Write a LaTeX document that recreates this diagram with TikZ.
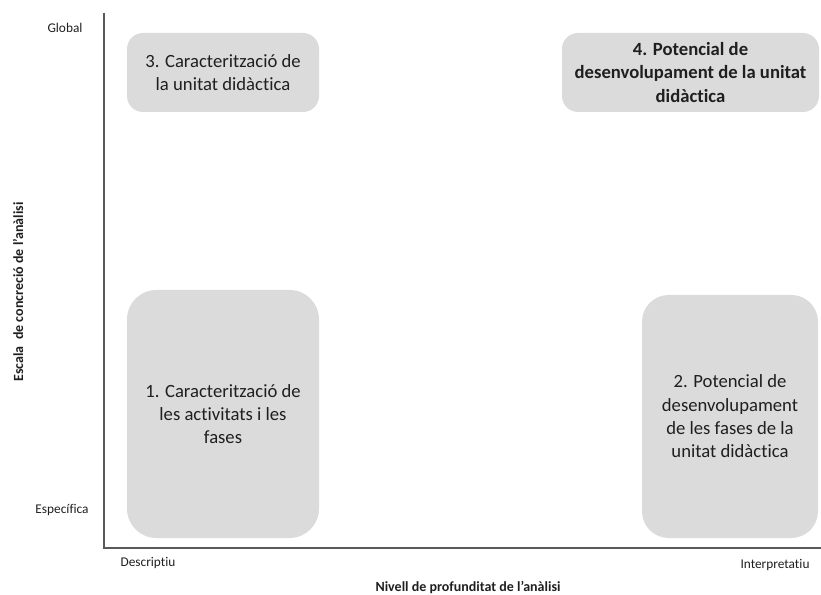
\documentclass[tikz,border=0pt]{standalone}
\usepackage{fontspec}
\setmainfont[Ligatures={NoCommon,NoRare}]{Carlito}
\begin{document}
\begin{tikzpicture}[x=0.75pt,y=-0.75pt,
  quad/.style={draw=none,fill=black!14,align=center,text=black!88,inner sep=2pt,
    font=\fontsize{14}{17.5}\selectfont},
  axlab/.style={text=black!88,font=\fontsize{10}{12}\selectfont},
  axtitle/.style={text=black!88,font=\bfseries\fontsize{10.5}{12}\selectfont},
  axis/.style={draw=black!65,line width=1.5pt}]
\useasboundingbox (0,0) rectangle (821,595);
\coordinate (top) at (104,13);
\coordinate (orig) at (104,548);
\coordinate (right) at (821,548);
\draw[axis] (top) -- (orig) -- (right);
\node[quad,rounded corners=12pt,minimum width=144pt,minimum height=59.25pt] (b3) at (223,72.5)
  {3. Caracterització de\\la unitat didàctica};
\node[quad,rounded corners=12pt,minimum width=192.75pt,minimum height=59.25pt,font=\bfseries\fontsize{14}{17.5}\selectfont] (b4) at (690.5,72.5)
  {4. Potencial de\\desenvolupament de la unitat\\didàctica};
\node[quad,rounded corners=22pt,minimum width=144pt,minimum height=186pt] (b1) at (223,414)
  {1. Caracterització de\\les activitats i les\\fases};
\node[quad,rounded corners=20pt,minimum width=132pt,minimum height=182.25pt] (b2) at (730,416.5)
  {2. Potencial de\\desenvolupament\\de les fases de la\\unitat didàctica};
\node[axlab] (glob) at (65,28) {Global};
\node[axlab] (espec) at (62,510) {Específica};
\node[axlab] (desc) at (148,563) {Descriptiu};
\node[axlab] (interp) at (775,565) {Interpretatiu};
\node[axtitle] (xt) at (468,588) {Nivell de profunditat de l’anàlisi};
\node[axtitle,rotate=90] (yt) at (18,292) {Escala \ de concreció de l’anàlisi};
\end{tikzpicture}
\end{document}
